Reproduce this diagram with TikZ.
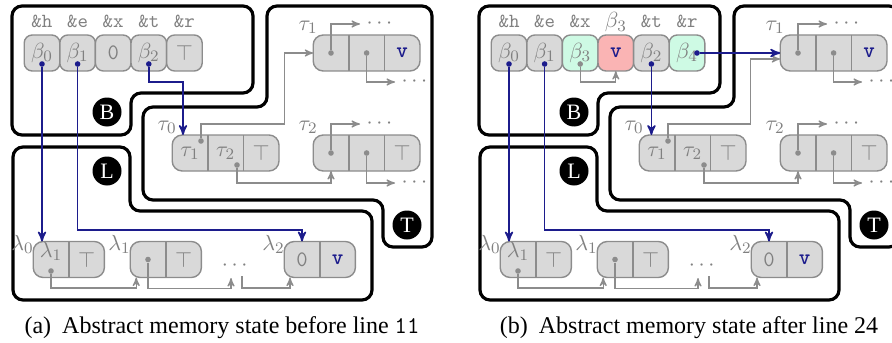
\documentclass[tikz,border=0pt]{standalone}
\usepackage{fontspec}
\setmainfont{Liberation Serif}
\usepackage{amsmath,amssymb}
\usepackage{xcolor}
\definecolor{cellfill}{RGB}{217,217,217}
\definecolor{cellline}{RGB}{140,140,140}
\definecolor{celltext}{RGB}{128,128,128}
\definecolor{ptrblue}{RGB}{28,28,140}
\definecolor{newgreen}{RGB}{206,250,228}
\definecolor{newred}{RGB}{250,180,180}
\usepackage{tikz}
\usetikzlibrary{positioning}
\usetikzlibrary{arrows}
\usetikzlibrary{calc,backgrounds}
\tikzset{region/.style={draw, line width=1.6pt, rounded corners=5pt},
  badge/.style={circle, fill=black, text=white, minimum size=14.5pt, inner sep=0pt, font=\fontsize{11}{11}\selectfont},
  cell/.style={rectangle, rounded corners=4pt, draw=cellline, fill=cellfill, line width=0.7pt, minimum width=17.8pt, minimum height=18pt, inner sep=0pt, outer sep=0pt, text=celltext, font=\fontsize{11}{13}\selectfont},
  cellpart/.style={rectangle, minimum width=17.8pt, minimum height=18pt, inner sep=0pt, outer sep=0pt, text=celltext, font=\fontsize{11}{13}\selectfont},
  cellframe/.style={draw=cellline, fill=cellfill, line width=0.7pt, rounded corners=5pt},
  divider/.style={draw=cellline, line width=0.7pt},
  addr/.style={text=celltext, inner sep=0pt, anchor=base, font=\ttfamily\fontsize{10}{12}\selectfont},
  nametag/.style={text=celltext, inner sep=0pt, font=\fontsize{11}{13}\selectfont},
  ptrdot/.style={circle, fill=#1, inner sep=0pt, minimum size=2.8pt},
  ptrdot/.default=cellline,
  bptr/.style={draw=ptrblue, line width=0.8pt, ->},
  gptr/.style={draw=cellline, line width=0.6pt, ->},
  etc/.style={text=celltext, inner xsep=3pt, inner ysep=0pt, anchor=west, font=\fontsize{11}{13}\selectfont},
  caption/.style={font=\fontsize{12}{14}\selectfont},
}
\newcommand{\valv}{\textcolor{ptrblue}{\ttfamily\bfseries v}}

\begin{document}
\begin{tikzpicture}[x=0.5pt, y=-0.5pt, >=stealth', semithick]
\useasboundingbox (0,0) rectangle (892,342);
\clip (0,0) rectangle (892,342);

% (a) before line 11
\draw[region] (60,6) -- (253,6) -- (253,93) -- (131,93) -- (131,135) -- (12,135) -- (12,6) -- cycle;
\draw[region] (350,6) -- (432,6) -- (432,247) -- (383,247) -- (383,200) -- (143,200) -- (143,107) -- (267,107) -- (267,6) -- cycle;
\draw[region] (60,147) -- (130,147) -- (130,211) -- (372,211) -- (372,300) -- (13,300) -- (13,147) -- cycle;
\node[badge] (B) at (107,112) {B};
\node[badge] (L) at (107,171) {L};
\node[badge] (T) at (407,225) {T};

\node[cell] (varh) at (42,53) {$\beta_0$};
\node[cell, right=0pt of varh] (vare) {$\beta_1$};
\node[cell, right=0pt of vare] (varx) {\texttt{0}};
\node[cell, right=0pt of varx] (vart) {$\beta_2$};
\node[cell, right=0pt of vart] (varr) {$\top$};
\node[addr] at ([yshift=3.5pt]varh.north) {\&h};
\node[addr] at ([yshift=3.5pt]vare.north) {\&e};
\node[addr] at ([yshift=3.5pt]varx.north) {\&x};
\node[addr] at ([yshift=3.5pt]vart.north) {\&t};
\node[addr] at ([yshift=3.5pt]varr.north) {\&r};

\node[cellpart] (t0a) at (190,153) {$\tau_1$};
\node[cellpart, right=0pt of t0a] (t0b) {$\tau_2$};
\node[cellpart, right=0pt of t0b] (t0c) {$\top$};
\node[cellpart] (t1a) at (331,53) {};
\node[cellpart, right=0pt of t1a] (t1b) {};
\node[cellpart, right=0pt of t1b] (t1c) {\valv};
\node[cellpart] (t2a) at (331,153) {};
\node[cellpart, right=0pt of t2a] (t2b) {};
\node[cellpart, right=0pt of t2b] (t2c) {$\top$};
\node[cellpart] (l0a) at (51,259.5) {};
\node[cellpart, right=0pt of l0a] (l0b) {$\top$};
\node[cellpart] (l1a) at (148,259.5) {};
\node[cellpart, right=0pt of l1a] (l1b) {$\top$};
\node[cellpart] (l2a) at (302,259.5) {\texttt{0}};
\node[cellpart, right=0pt of l2a] (l2b) {\valv};
\node[nametag] at ([yshift=4pt]l0a.center) {$\lambda_1$};
\begin{scope}[on background layer]
  \draw[cellframe] (t0a.north west) rectangle (t0c.south east);
  \draw[cellframe] (t1a.north west) rectangle (t1c.south east);
  \draw[cellframe] (t2a.north west) rectangle (t2c.south east);
  \draw[cellframe] (l0a.north west) rectangle (l0b.south east);
  \draw[cellframe] (l1a.north west) rectangle (l1b.south east);
  \draw[cellframe] (l2a.north west) rectangle (l2b.south east);
  \draw[divider] (t0a.north east) -- (t0a.south east) (t0b.north east) -- (t0b.south east);
  \draw[divider] (t1a.north east) -- (t1a.south east) (t1b.north east) -- (t1b.south east);
  \draw[divider] (t2a.north east) -- (t2a.south east) (t2b.north east) -- (t2b.south east);
  \draw[divider] (l0a.north east) -- (l0a.south east) (l1a.north east) -- (l1a.south east) (l2a.north east) -- (l2a.south east);
\end{scope}
\node[nametag, anchor=east] at ([xshift=2.5pt,yshift=4pt]t0a.north west) {$\tau_0$};
\node[nametag, anchor=east] at ([xshift=2.5pt,yshift=4pt]t1a.north west) {$\tau_1$};
\node[nametag, anchor=east] at ([xshift=2.5pt,yshift=4pt]t2a.north west) {$\tau_2$};
\node[nametag, anchor=east] at ([xshift=0.5pt,yshift=-1.5pt]l0a.north west) {$\lambda_0$};
\node[nametag, anchor=east] at ([xshift=0.5pt,yshift=-1.5pt]l1a.north west) {$\lambda_1$};
\node[nametag, anchor=east] at ([xshift=0.5pt,yshift=-1.5pt]l2a.north west) {$\lambda_2$};
\node[etc] (t1up) at (360,24) {$\cdots$};
\node[etc] (t1dn) at (395,82) {$\cdots$};
\node[etc] (t2up) at (360,124) {$\cdots$};
\node[etc] (t2dn) at (395,183) {$\cdots$};
\node[etc, anchor=center] (ldots) at (236.5,266) {$\cdots$};

\node[ptrdot=ptrblue] (hd) at ([yshift=-5.5pt]varh.center) {};
\node[ptrdot=ptrblue] (ed) at ([yshift=-5.5pt]vare.center) {};
\node[ptrdot=ptrblue] (td) at ([yshift=-5.5pt]vart.center) {};
\node[ptrdot] (t0ad) at ([xshift=5.5pt,yshift=6pt]t0a.center) {};
\node[ptrdot] (t0bd) at ([xshift=5.7pt,yshift=-6pt]t0b.center) {};
\node[ptrdot] (t1ad) at (t1a) {};
\node[ptrdot] (t1bd) at (t1b) {};
\node[ptrdot] (t2ad) at (t2a) {};
\node[ptrdot] (t2bd) at (t2b) {};
\node[ptrdot] (l0ad) at ([yshift=-5.75pt]l0a.center) {};
\node[ptrdot] (l1ad) at (l1a) {};

\draw[gptr] (t0ad) -- ++(0,-17) -| ($(t1a.west)+(-29,0)$) -- (t1a.west);
\draw[gptr] (t0bd) -- ++(0,18) -| (t2a.south);
\draw[gptr] (t1ad) |- (t1up.west);
\draw[gptr] (t1bd) |- (t1dn.west);
\draw[gptr] (t2ad) |- (t2up.west);
\draw[gptr] (t2bd) |- (t2dn.west);
\draw[gptr] (l0ad) -- ++(0,17) -| ([xshift=3pt]l1a.south west);
\draw[gptr] (l1ad) -- ++(0,29) -| ($(ldots)+(-5.5,12)$);
\draw[gptr] ($(ldots)+(5.5,10)$) -- ++(0,12) -| ([xshift=-6pt]l2a.south);
\draw[bptr] (hd) -- (hd |- l0a.north);
\draw[bptr] (ed) -- ++(0,166) -| (l2a.north);
\draw[bptr] (td) -- ++(0,18) -| ([xshift=-3.5pt]t0a.north);

\node[caption] (capa) at (222,328) {(a)\hspace{5.5pt}Abstract memory state before line \texttt{11}};

% (b) after line 24
\begin{scope}[xshift=233.5pt]
\draw[region] (60,6) -- (253,6) -- (253,93) -- (131,93) -- (131,135) -- (12,135) -- (12,6) -- cycle;
\draw[region] (350,6) -- (432,6) -- (432,247) -- (383,247) -- (383,200) -- (143,200) -- (143,107) -- (267,107) -- (267,6) -- cycle;
\draw[region] (60,147) -- (130,147) -- (130,211) -- (372,211) -- (372,300) -- (13,300) -- (13,147) -- cycle;
\node[badge] (bB) at (107,112) {B};
\node[badge] (bL) at (107,171) {L};
\node[badge] (bT) at (407,225) {T};

\node[cell] (bvarh) at (42,53) {$\beta_0$};
\node[cell, right=0pt of bvarh] (bvare) {$\beta_1$};
\node[cell, fill=newgreen, right=0pt of bvare] (bvarx) {$\beta_3$};
\node[cell, fill=newred, right=0pt of bvarx] (bnew) {\valv};
\node[cell, right=0pt of bnew] (bvart) {$\beta_2$};
\node[cell, fill=newgreen, right=0pt of bvart] (bvarr) {$\beta_4$};
\node[addr] at ([yshift=3.5pt]bvarh.north) {\&h};
\node[addr] at ([yshift=3.5pt]bvare.north) {\&e};
\node[addr] at ([yshift=3.5pt]bvarx.north) {\&x};
\node[addr, font=\fontsize{11}{13}\selectfont] at ([yshift=3.5pt]bnew.north) {$\beta_3$};
\node[addr] at ([yshift=3.5pt]bvart.north) {\&t};
\node[addr] at ([yshift=3.5pt]bvarr.north) {\&r};

\node[cellpart] (bt0a) at (190,153) {$\tau_1$};
\node[cellpart, right=0pt of bt0a] (bt0b) {$\tau_2$};
\node[cellpart, right=0pt of bt0b] (bt0c) {$\top$};
\node[cellpart] (bt1a) at (331,53) {};
\node[cellpart, right=0pt of bt1a] (bt1b) {};
\node[cellpart, right=0pt of bt1b] (bt1c) {\valv};
\node[cellpart] (bt2a) at (331,153) {};
\node[cellpart, right=0pt of bt2a] (bt2b) {};
\node[cellpart, right=0pt of bt2b] (bt2c) {$\top$};
\node[cellpart] (bl0a) at (51,259.5) {};
\node[cellpart, right=0pt of bl0a] (bl0b) {$\top$};
\node[cellpart] (bl1a) at (148,259.5) {};
\node[cellpart, right=0pt of bl1a] (bl1b) {$\top$};
\node[cellpart] (bl2a) at (302,259.5) {\texttt{0}};
\node[cellpart, right=0pt of bl2a] (bl2b) {\valv};
\node[nametag] at ([yshift=4pt]bl0a.center) {$\lambda_1$};
\begin{scope}[on background layer]
  \draw[cellframe] (bt0a.north west) rectangle (bt0c.south east);
  \draw[cellframe] (bt1a.north west) rectangle (bt1c.south east);
  \draw[cellframe] (bt2a.north west) rectangle (bt2c.south east);
  \draw[cellframe] (bl0a.north west) rectangle (bl0b.south east);
  \draw[cellframe] (bl1a.north west) rectangle (bl1b.south east);
  \draw[cellframe] (bl2a.north west) rectangle (bl2b.south east);
  \draw[divider] (bt0a.north east) -- (bt0a.south east) (bt0b.north east) -- (bt0b.south east);
  \draw[divider] (bt1a.north east) -- (bt1a.south east) (bt1b.north east) -- (bt1b.south east);
  \draw[divider] (bt2a.north east) -- (bt2a.south east) (bt2b.north east) -- (bt2b.south east);
  \draw[divider] (bl0a.north east) -- (bl0a.south east) (bl1a.north east) -- (bl1a.south east) (bl2a.north east) -- (bl2a.south east);
\end{scope}
\node[nametag, anchor=east] at ([xshift=2.5pt,yshift=4pt]bt0a.north west) {$\tau_0$};
\node[nametag, anchor=east] at ([xshift=2.5pt,yshift=4pt]bt1a.north west) {$\tau_1$};
\node[nametag, anchor=east] at ([xshift=2.5pt,yshift=4pt]bt2a.north west) {$\tau_2$};
\node[nametag, anchor=east] at ([xshift=0.5pt,yshift=-1.5pt]bl0a.north west) {$\lambda_0$};
\node[nametag, anchor=east] at ([xshift=0.5pt,yshift=-1.5pt]bl1a.north west) {$\lambda_1$};
\node[nametag, anchor=east] at ([xshift=0.5pt,yshift=-1.5pt]bl2a.north west) {$\lambda_2$};
\node[etc] (bt1up) at (360,24) {$\cdots$};
\node[etc] (bt1dn) at (395,82) {$\cdots$};
\node[etc] (bt2up) at (360,124) {$\cdots$};
\node[etc] (bt2dn) at (395,183) {$\cdots$};
\node[etc, anchor=center] (bldots) at (236.5,266) {$\cdots$};

\node[ptrdot=ptrblue] (bhd) at ([yshift=-5.5pt]bvarh.center) {};
\node[ptrdot=ptrblue] (bed) at ([yshift=-5.5pt]bvare.center) {};
\node[ptrdot] (bxd) at ([yshift=-5.5pt]bvarx.center) {};
\node[ptrdot=ptrblue] (btd) at ([yshift=-5.5pt]bvart.center) {};
\node[ptrdot=ptrblue] (brd) at ([xshift=5pt]bvarr.center) {};
\node[ptrdot] (bt0ad) at ([xshift=5.5pt,yshift=6pt]bt0a.center) {};
\node[ptrdot] (bt0bd) at ([xshift=5.7pt,yshift=-6pt]bt0b.center) {};
\node[ptrdot] (bt1ad) at (bt1a) {};
\node[ptrdot] (bt1bd) at (bt1b) {};
\node[ptrdot] (bt2ad) at (bt2a) {};
\node[ptrdot] (bt2bd) at (bt2b) {};
\node[ptrdot] (bl0ad) at ([yshift=-5.75pt]bl0a.center) {};
\node[ptrdot] (bl1ad) at (bl1a) {};

\draw[gptr] (bxd) -- ++(0,18) -| (bnew.south);
\draw[gptr] (bt0ad) -- ++(0,-17) -| ($(bt1a.west)+(-30,6)$) -- ([yshift=-3pt]bt1a.west);
\draw[gptr] (bt0bd) -- ++(0,18) -| (bt2a.south);
\draw[gptr] (bt1ad) |- (bt1up.west);
\draw[gptr] (bt1bd) |- (bt1dn.west);
\draw[gptr] (bt2ad) |- (bt2up.west);
\draw[gptr] (bt2bd) |- (bt2dn.west);
\draw[gptr] (bl0ad) -- ++(0,17) -| ([xshift=3pt]bl1a.south west);
\draw[gptr] (bl1ad) -- ++(0,29) -| ($(bldots)+(-5.5,12)$);
\draw[gptr] ($(bldots)+(5.5,10)$) -- ++(0,12) -| ([xshift=-6pt]bl2a.south);
\draw[bptr] (bhd) -- (bhd |- bl0a.north);
\draw[bptr] (bed) -- ++(0,166) -| (bl2a.north);
\draw[bptr] (btd) -- (btd |- bt0a.north);
\draw[bptr] (brd) -- (bt1a.west);

\node[caption] (capb) at (222,328) {(b)\hspace{5.5pt}Abstract memory state after line 24};
\end{scope}
\end{tikzpicture}
\end{document}
